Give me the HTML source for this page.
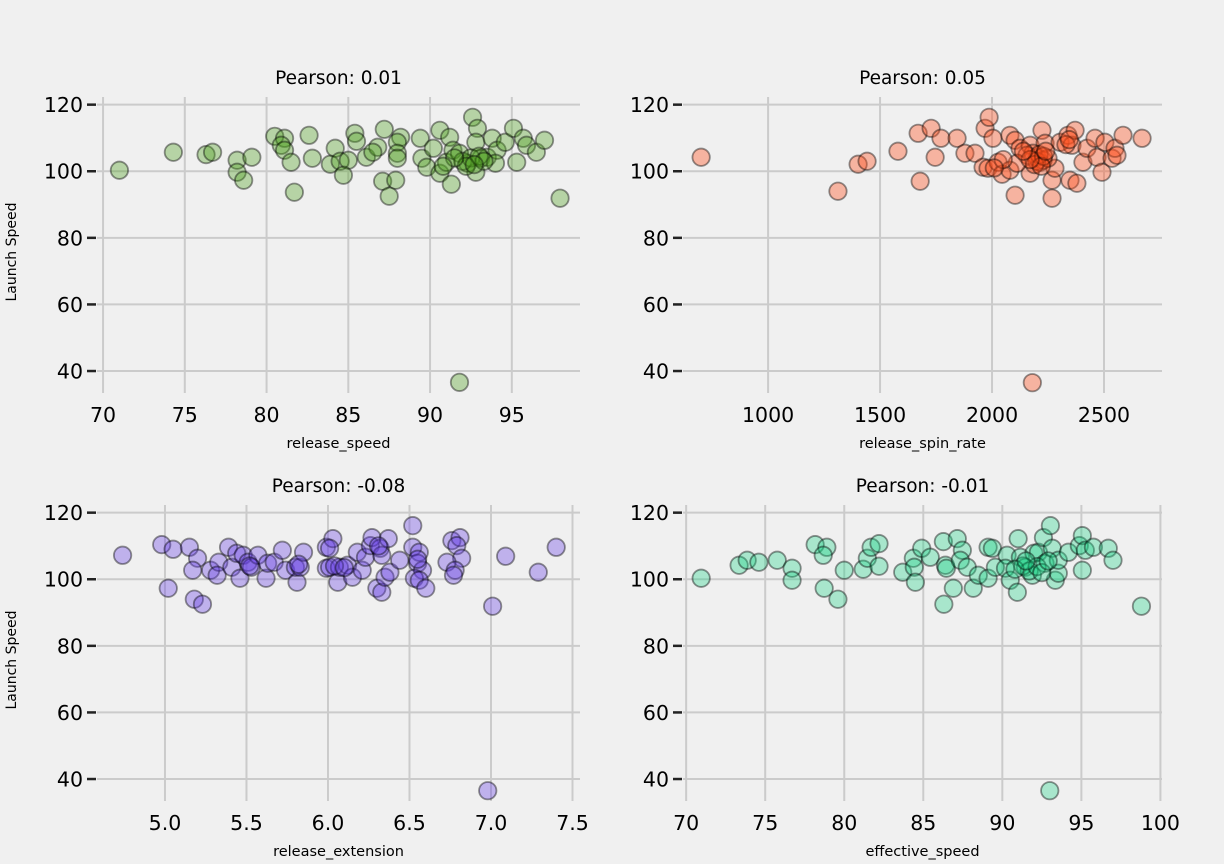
<!DOCTYPE html>
<html><head><meta charset="utf-8"><style>
body{margin:0;background:#f0f0f0;}
svg{display:block;font-family:"DejaVu Sans","Liberation Sans",sans-serif;}
</style></head><body>
<svg id="fig" width="1224" height="864" viewBox="0 0 1224 864" xmlns="http://www.w3.org/2000/svg">
<rect width="1224" height="864" fill="#f0f0f0"/>
</svg>
<script>
const speedX=[71.0,74.3,76.3,76.7,78.2,78.2,78.6,79.1,80.5,81.1,80.9,81.1,81.5,81.7,82.6,82.8,84.2,83.9,84.5,85.0,84.7,85.4,85.5,86.1,86.8,86.5,87.2,87.1,87.9,87.5,88.2,88.0,88.0,88.0,89.4,89.5,89.8,90.2,90.6,91.2,90.6,91.3,91.0,91.4,91.8,92.6,92.9,92.8,92.3,92.8,93.1,93.5,93.8,94.1,94.0,94.6,95.1,95.3,95.7,95.9,96.5,97.0,97.95,91.8,92.0,92.5,93.0,92.2,93.3,91.5,92.7,90.8];
const speedY=[100.3,105.7,105,105.7,103.3,99.7,97.3,104.2,110.5,109.9,107.8,106.3,102.7,93.7,110.8,103.9,106.9,102.1,103,103.3,98.8,111.4,109,104.2,107.2,105.7,112.6,97,97.3,92.5,110.2,108.7,105.4,103.9,109.9,103.9,101.2,106.9,112.3,110.2,99.4,96.1,102.7,106.3,105.4,116.2,112.9,108.7,102.4,99.7,103.9,104.2,109.9,106.3,102.4,108.7,112.9,102.7,109.9,107.8,105.7,109.3,91.9,36.6,103,104,104.5,101.5,103,104,102,101.5];
const spinX=[701,1312,1402,1442,1580,1670,1728,1772,1746,1679,1844,1879,1924,1969,1987,2004,1960,1982,2027,2045,2080,2103,2080,2103,2125,2170,2170,2214,2223,2237,2268,2268,2281,2304,2339,2348,2357,2371,2379,2406,2424,2460,2469,2491,2504,2536,2549,2558,2585,2670,2201,2228,2183,2156,2250,2112,2180,2200,2210,2190,2230,2220,2170,2240,2330,2345,2050,2010,2140];
const spinY=[104.2,94,102.1,103,106,111.4,112.9,109.9,104.2,97,109.9,105.4,105.4,112.9,116.2,109.9,101.2,100.9,102.7,99.1,110.8,109.3,100.3,92.8,106.9,107.8,99.4,102.7,112.3,108.4,97.3,91.9,100.9,108.7,110.8,97.3,107.8,112.3,96.4,102.7,106.9,109.9,104.2,99.7,108.7,103.9,106.9,104.8,110.8,109.9,104.2,103.3,105.4,104.8,103.9,102.4,36.5,103,105,102,104.5,101.5,103.5,106,108,109.5,103.5,101,106];
const extX=[4.74,4.98,5.05,5.02,5.15,5.20,5.17,5.18,5.23,5.28,5.33,5.32,5.39,5.41,5.44,5.46,5.48,5.51,5.53,5.57,5.62,5.63,5.67,5.72,5.74,5.81,5.80,5.83,5.85,5.99,6.03,6.01,5.99,6.01,6.06,6.07,6.12,6.15,6.18,6.21,6.23,6.26,6.27,6.32,6.33,6.37,6.30,6.33,6.35,6.38,6.44,6.52,6.52,6.56,6.55,6.58,6.53,6.56,6.60,6.76,6.81,6.79,6.82,6.73,6.78,6.77,7.09,7.01,7.29,7.40,6.98,5.52,5.82,6.04,6.10,6.31,6.55];
const extY=[107.2,110.4,109,97.3,109.6,106.3,102.7,94,92.5,102.7,105.1,101.2,109.6,103.6,107.8,100.3,107.2,105.1,103.6,107.2,100.3,104.8,105.1,108.7,102.7,99.1,103.6,103.6,108.1,109.6,112.2,109.3,103.3,103.6,99.1,103.6,104.2,100.6,108.1,102.7,106.6,110.1,112.5,109.3,107.2,112.2,97.3,96.1,100.6,102.1,105.7,116.1,109.6,108.1,104.8,102.7,100.3,99.7,97.3,111.6,112.5,110.1,106.3,105.1,102.7,101.2,106.9,91.9,102.1,109.6,36.5,104,104.5,104,103.5,110,106];
const effX=[70.95,73.35,73.86,74.6,75.76,76.7,76.7,78.16,78.9,78.67,78.73,79.6,80.0,81.2,81.46,81.7,82.2,82.2,83.7,84.37,84.43,84.5,84.9,85.44,86.27,86.4,86.46,86.3,86.9,87.15,87.47,87.34,87.78,88.16,88.48,89.1,89.37,89.1,89.56,90.3,90.2,90.5,90.95,91.0,91.14,91.46,91.9,92.0,92.28,92.6,93.04,92.7,93.16,93.35,93.54,93.54,94.18,94.87,95.06,95.06,95.25,95.76,96.7,97.0,98.8,93.0,91.3,91.7,92.2,92.5,90.8,92.9,91.5];
const effY=[100.3,104.2,105.7,105.1,105.7,103.3,99.7,110.4,109.6,107.2,97.3,94,102.7,103,106.3,109.6,110.7,103.9,102.1,106.3,103.6,99.1,109.3,106.6,111.3,104.2,103.3,92.5,97.3,112.2,108.7,105.7,103.6,97.3,101.2,109.6,109.3,100.3,103.6,107.2,103.3,99.7,96.1,112.2,106.6,103.6,101.2,107.8,108.1,112.5,116.1,104.8,109.3,99.7,101.8,105.7,108.1,110.1,113.1,102.7,108.7,109.6,109.3,105.7,91.9,36.5,104,102.5,103.8,102,103,105.5,105.5];
const yTicks=[40,60,80,100,120];
const panels=[
 {name:'release-speed',xs:speedX,ys:speedY,title:'Pearson: 0.01',xl:'release_speed',x0:97,x1:580,y0:97,y1:393,dx:[69.63,99.17],dy:[33.4,122.3],xt:[70,75,80,85,90,95],xf:v=>v,fill:'rgba(74,158,26,0.35)'},
 {name:'release-spin-rate',xs:spinX,ys:spinY,title:'Pearson: 0.05',xl:'release_spin_rate',x0:683,x1:1162,y0:97,y1:393,dx:[620,2759],dy:[33.4,122.3],xt:[1000,1500,2000,2500],xf:v=>v,fill:'rgba(255,80,30,0.38)'},
 {name:'release-extension',xs:extX,ys:extY,title:'Pearson: -0.08',xl:'release_extension',x0:97,x1:580,y0:505,y1:801,dx:[4.583,7.546],dy:[33.4,122.3],xt:[5.0,5.5,6.0,6.5,7.0,7.5],xf:v=>v.toFixed(1),fill:'rgba(100,60,230,0.35)'},
 {name:'effective-speed',xs:effX,ys:effY,title:'Pearson: -0.01',xl:'effective_speed',x0:683,x1:1162,y0:505,y1:801,dx:[69.8,100.1],dy:[33.4,122.3],xt:[70,75,80,85,90,95,100],xf:v=>v,fill:'rgba(20,210,130,0.33)'}
];
const NS='http://www.w3.org/2000/svg';
const svg=document.getElementById('fig');
function mk(t,a,p){const e=document.createElementNS(NS,t);for(const k in a)e.setAttribute(k,a[k]);(p||svg).appendChild(e);return e;}
panels.forEach(p=>{
 const g=mk('g',{});
 
 
 const sx=v=>p.x0+(v-p.dx[0])/(p.dx[1]-p.dx[0])*(p.x1-p.x0);
 const sy=v=>p.y1-(v-p.dy[0])/(p.dy[1]-p.dy[0])*(p.y1-p.y0);
 p.xt.forEach(t=>{
  const l=mk('line',{x1:sx(t),x2:sx(t),y1:p.y0,y2:p.y1,stroke:'#cbcbcb','stroke-width':2},g);
  
  
  const tx=mk('text',{x:sx(t),y:p.y1+29,'font-size':20.5,'text-anchor':'middle',fill:'#000'},g);
  tx.textContent=p.xf(t);
  
  
 });
 yTicks.forEach(t=>{
  const l=mk('line',{x1:p.x0,x2:p.x1,y1:sy(t),y2:sy(t),stroke:'#cbcbcb','stroke-width':2},g);
  
  
  const tk=mk('line',{x1:p.x0-10,x2:p.x0-1,y1:sy(t),y2:sy(t),stroke:'#222','stroke-width':2.5},g);
  
  
  const tx=mk('text',{x:p.x0-14,y:sy(t)+7.5,'font-size':20.5,'text-anchor':'end',fill:'#000'},g);
  tx.textContent=t;
  
  
 });
 p.xs.forEach((v,i)=>{
  const c=mk('circle',{cx:sx(v),cy:sy(p.ys[i]),r:8.7,fill:p.fill,stroke:'rgba(0,0,0,0.42)','stroke-width':1.8},g);
  
  
 });
 const ti=mk('text',{x:(p.x0+p.x1)/2,y:p.y0-13,'font-size':18.5,'text-anchor':'middle',fill:'#000'},g);
 ti.textContent=p.title;
 
 
 const xl=mk('text',{x:(p.x0+p.x1)/2,y:p.y1+55,'font-size':14.5,'text-anchor':'middle',fill:'#000'},g);
 xl.textContent=p.xl;
 
 
 if(p.x0<300){
  const cy=(p.y0+p.y1)/2+7;
  const yl=mk('text',{x:16,y:cy,'font-size':14,'text-anchor':'middle',fill:'#000',transform:'rotate(-90 16 '+cy+')'},g);
  yl.textContent='Launch Speed';
  
  
 }
});
</script>
</body></html>
